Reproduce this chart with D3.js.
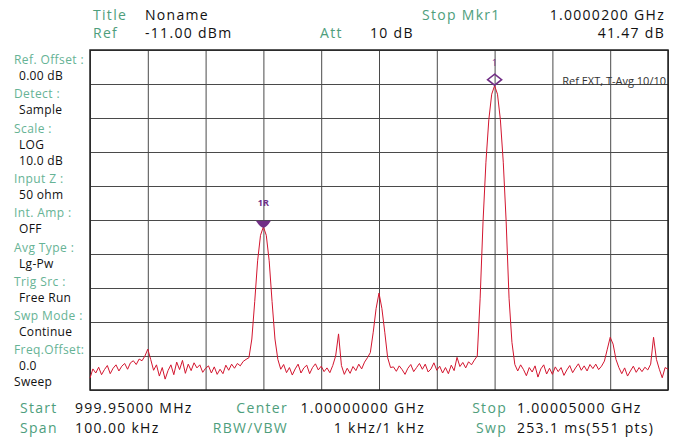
<!DOCTYPE html>
<html>
<head>
<meta charset="utf-8">
<script src="https://cdn.jsdelivr.net/npm/d3@7"></script>
<style>
  body { margin: 0; background: #fff; }
  svg { display: block; }
  text { font-family: "Open Sans", "Noto Sans", sans-serif; }
</style>
</head>
<body>
<svg id="sa" width="689" height="447"></svg>
<script>
// sweep settings
const startMHz = 999.95;
const stopMHz = 1000.05;
const stepKHz = 0.5;
const refLevel = -11;
const dbPerDiv = 10;

// trace levels (dBm), one every 0.5 kHz from 999.95 MHz
const traceDbm = [
  -107.5, -104.8, -106.0, -104.3, -106.5, -105.0, -103.8, -106.2, -104.6, -103.6,
  -105.4, -104.0, -103.2, -104.9, -103.0, -102.4, -103.5, -101.9, -102.4, -101.0,
  -99.0, -102.0, -105.2, -103.6, -106.9, -104.4, -107.8, -105.3, -103.6, -106.5,
  -102.8, -105.0, -102.3, -106.1, -103.4, -105.3, -103.0, -104.5, -103.6, -105.8,
  -104.6, -103.9, -106.0, -104.2, -106.4, -104.9, -106.2, -103.7, -105.2, -103.4,
  -104.6, -103.2, -103.9, -102.6, -102.0, -101.5, -96.0, -85.0, -73.0, -65.5,
  -63.0, -65.5, -73.0, -85.0, -96.0, -102.0, -104.9, -103.5, -105.9, -104.4,
  -106.6, -104.8, -103.4, -106.0, -104.5, -103.7, -106.2, -104.4, -103.3, -105.1,
  -104.0, -105.6, -104.5, -105.9, -103.8, -101.0, -94.5, -103.8, -106.4, -104.6,
  -106.1, -104.1, -105.3, -103.4, -104.8, -102.8, -101.5, -100.0, -94.0, -87.0,
  -82.5, -87.0, -94.0, -101.5, -104.4, -104.2, -105.5, -103.9, -105.0, -106.4,
  -104.6, -103.5, -105.6, -104.4, -103.2, -104.9, -103.4, -105.7, -104.8, -103.0,
  -105.2, -104.0, -106.0, -104.4, -106.2, -103.7, -105.3, -101.4, -104.1, -102.9,
  -104.5, -102.7, -103.6, -102.2, -101.0, -84.0, -61.5, -44.0, -31.5, -24.0,
  -21.5, -24.0, -31.5, -44.0, -61.5, -84.0, -97.0, -103.5, -105.4, -103.6,
  -105.0, -106.8, -104.4, -105.7, -103.9, -107.2, -104.8, -103.6, -106.3, -104.6,
  -106.4, -104.2, -105.6, -104.4, -106.7, -105.1, -103.8, -105.9, -104.5, -103.3,
  -105.2, -103.9, -105.4, -103.5, -104.7, -103.4, -105.0, -104.0, -102.5, -99.0,
  -95.5, -97.5, -102.0, -104.4, -106.2, -104.5, -106.9, -105.4, -104.0, -105.8,
  -104.4, -105.6, -104.3, -105.1, -103.4, -95.5, -102.0, -104.9, -107.4, -104.4,
  -104.9
];

// markers
const markerLabels = ["1", "1R"];
const markerFreqMHz = [1000.02, 999.98];
const markerDbm = [-21.5, -63.0];

// header / footer text
const headerLeft = [["Title", "Noname"], ["Ref", "-11.00 dBm"]];
const headerAtt = ["Att", "10 dB"];
const headerMkr = ["Stop Mkr1", "1.0000200 GHz", "41.47 dB"];
const footerRow1 = ["Start", "999.95000 MHz", "Center", "1.00000000 GHz", "Stop", "1.00005000 GHz"];
const footerRow2 = ["Span", "100.00 kHz", "RBW/VBW", "1 kHz/1 kHz", "Swp", "253.1 ms(551 pts)"];
const sidePanel = [
  ["Ref. Offset :", "0.00 dB"],
  ["Detect :", "Sample"],
  ["Scale :", "LOG", "10.0 dB"],
  ["Input Z :", "50 ohm"],
  ["Int. Amp :", "OFF"],
  ["Avg Type :", "Lg-Pw"],
  ["Trig Src :", "Free Run"],
  ["Swp Mode :", "Continue"],
  ["Freq.Offset:", "0.0"]
];
const traceNote = "Ref EXT, T-Avg 10/10";

const green = "#4e9e7c";
const lightGreen = "#66b395";
const purple = "#722f86";

let svg = d3.select("#sa");
let plotLeft = 90, plotRight = 668, plotTop = 50, plotBottom = 390;

let x = d3.scaleLinear().domain([startMHz, stopMHz]).range([plotLeft, plotRight]);
let y = d3.scaleLinear().domain([refLevel - 10 * dbPerDiv, refLevel]).range([plotBottom, plotTop]);

let xTicks = d3.range(11).map(k => startMHz + k * (stopMHz - startMHz) / 10);
let yTicks = d3.range(11).map(k => refLevel - k * dbPerDiv);

// grid
svg.append("g")
    .attr("transform", `translate(0,${plotBottom})`)
    .call(d3.axisBottom(x).tickValues(xTicks).tickSize(-(plotBottom - plotTop)).tickFormat(""))
    .call(g => g.select(".domain").remove())
    .call(g => g.selectAll("line").attr("stroke", "#4a4a4a").attr("stroke-width", 1));

svg.append("g")
    .attr("transform", `translate(${plotLeft},0)`)
    .call(d3.axisLeft(y).tickValues(yTicks).tickSize(-(plotRight - plotLeft)).tickFormat(""))
    .call(g => g.select(".domain").remove())
    .call(g => g.selectAll("line").attr("stroke", "#4a4a4a").attr("stroke-width", 1));

svg.append("rect")
    .attr("x", plotLeft).attr("y", plotTop)
    .attr("width", plotRight - plotLeft).attr("height", plotBottom - plotTop)
    .attr("fill", "none")
    .attr("stroke", "#222")
    .attr("stroke-width", 1.5);

// trace
let line = d3.line()
    .x((d, i) => x(startMHz + i * stepKHz / 1000))
    .y(d => y(d));

svg.append("path")
    .datum(traceDbm)
    .attr("d", line)
    .attr("fill", "none")
    .attr("stroke", "#d3162f")
    .attr("stroke-width", 1)
    .attr("stroke-linejoin", "round");

// marker 1 (diamond)
let m1x = x(markerFreqMHz[0]), m1y = y(markerDbm[0]) - 6;
svg.append("path")
    .attr("d", `M${m1x},${m1y - 5.5} L${m1x + 7},${m1y} L${m1x},${m1y + 5.5} L${m1x - 7},${m1y} Z`)
    .attr("fill", "none")
    .attr("stroke", purple)
    .attr("stroke-width", 1.6);
svg.append("text")
    .attr("x", m1x).attr("y", m1y - 14)
    .attr("text-anchor", "middle")
    .attr("font-size", 9)
    .attr("fill", purple)
    .text(markerLabels[0]);

// marker 1R (filled wedge)
let m2x = x(markerFreqMHz[1]), m2y = y(markerDbm[1]) - 6;
svg.append("path")
    .attr("d", `M${m2x - 7.5},${m2y} L${m2x + 7.5},${m2y} Q${m2x + 3},${m2y + 7} ${m2x},${m2y + 7} Q${m2x - 3},${m2y + 7} ${m2x - 7.5},${m2y} Z`)
    .attr("fill", purple);
svg.append("text")
    .attr("x", m2x).attr("y", m2y - 15)
    .attr("text-anchor", "middle")
    .attr("font-size", 9)
    .attr("font-weight", "bold")
    .attr("fill", purple)
    .text(markerLabels[1]);

svg.append("text")
    .attr("x", 666).attr("y", 85)
    .attr("text-anchor", "end")
    .attr("font-size", 11)
    .attr("fill", "#333")
    .text(traceNote);

// header
let big = (sel) => sel.attr("font-size", 14).attr("letter-spacing", 1.3);
headerLeft.forEach((row, i) => {
  let by = 20 + i * 17.5;
  svg.append("text").attr("x", 93).attr("y", by).attr("fill", green).call(big).text(row[0]);
  svg.append("text").attr("x", 145).attr("y", by).attr("fill", "#111").call(big).text(row[1]);
});
svg.append("text").attr("x", 320).attr("y", 37.5).attr("fill", green).call(big).text(headerAtt[0]);
svg.append("text").attr("x", 370).attr("y", 37.5).attr("fill", "#111").call(big).text(headerAtt[1]);
svg.append("text").attr("x", 422).attr("y", 20).attr("fill", green).call(big).text(headerMkr[0]);
svg.append("text").attr("x", 665).attr("y", 20).attr("text-anchor", "end").attr("fill", "#111").call(big).text(headerMkr[1]);
svg.append("text").attr("x", 665).attr("y", 37.5).attr("text-anchor", "end").attr("fill", "#111").call(big).text(headerMkr[2]);

// side panel
let sy = 64;
sidePanel.forEach(group => {
  svg.append("text").attr("x", 14).attr("y", sy)
      .attr("font-size", 12).attr("letter-spacing", 0.4)
      .attr("fill", lightGreen).text(group[0]);
  group.slice(1).forEach(v => {
    sy += 16;
    svg.append("text").attr("x", 19).attr("y", sy)
        .attr("font-size", 12).attr("letter-spacing", 0.3)
        .attr("fill", "#111").text(v);
  });
  sy += 18.3;
});
svg.append("text").attr("x", 14).attr("y", 386)
    .attr("font-size", 12).attr("letter-spacing", 0.3)
    .attr("fill", "#111").text("Sweep");

// footer
[footerRow1, footerRow2].forEach((row, i) => {
  let fy = 413 + i * 20;
  svg.append("text").attr("x", 20).attr("y", fy).attr("fill", green).call(big).text(row[0]);
  svg.append("text").attr("x", 75).attr("y", fy).attr("fill", "#111").call(big).text(row[1]);
  svg.append("text").attr("x", 288).attr("y", fy).attr("text-anchor", "end").attr("fill", green).call(big).text(row[2]);
  svg.append("text").attr("x", 425).attr("y", fy).attr("text-anchor", "end").attr("fill", "#111").call(big).text(row[3]);
  svg.append("text").attr("x", 507).attr("y", fy).attr("text-anchor", "end").attr("fill", green).call(big).text(row[4]);
  svg.append("text").attr("x", 517).attr("y", fy).attr("fill", "#111").call(big).text(row[5]);
});
</script>
</body>
</html>
